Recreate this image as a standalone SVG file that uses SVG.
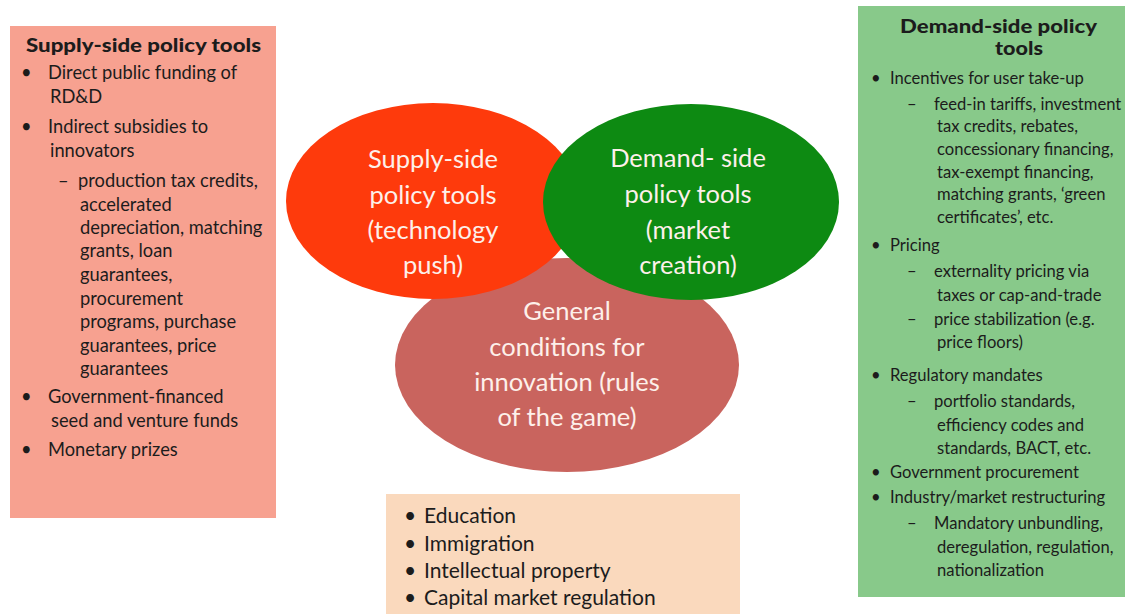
<svg xmlns="http://www.w3.org/2000/svg" width="1125" height="614" viewBox="0 0 1125 614">
<style>
.t{font-family:Lato,"Open Sans","Liberation Sans",sans-serif;fill:#1c1c1c}
.l{font-size:18.3px}
.r{font-size:16.6px}
.h{font-size:19px;font-weight:900}
.e{font-family:Lato,"Open Sans","Liberation Sans",sans-serif;font-size:25.5px;fill:#fdf0ea;text-anchor:middle}
.c{font-size:21px}
</style>
<rect width="1125" height="614" fill="#ffffff"/>
<g id="supply-box">
<rect x="10" y="26" width="266" height="492" fill="#f7a190"/>
<text class="t h" x="26" y="52" textLength="235" lengthAdjust="spacingAndGlyphs">Supply-side policy tools</text>
<text class="t l" x="21" y="79">•</text><text class="t l" x="48" y="79">Direct public funding of</text>
<text class="t l" x="50" y="103">RD&amp;D</text>
<text class="t l" x="21" y="133">•</text><text class="t l" x="48" y="133">Indirect subsidies to</text>
<text class="t l" x="50" y="157">innovators</text>
<text class="t l" x="58" y="187">–</text><text class="t l" x="78" y="187">production tax credits,</text>
<text class="t l" x="80" y="211">accelerated</text>
<text class="t l" x="80" y="234">depreciation, matching</text>
<text class="t l" x="80" y="257">grants, loan</text>
<text class="t l" x="80" y="281">guarantees,</text>
<text class="t l" x="80" y="305">procurement</text>
<text class="t l" x="80" y="328">programs, purchase</text>
<text class="t l" x="80" y="352">guarantees, price</text>
<text class="t l" x="80" y="375">guarantees</text>
<text class="t l" x="21" y="403">•</text><text class="t l" x="48" y="403">Government-financed</text>
<text class="t l" x="51" y="427">seed and venture funds</text>
<text class="t l" x="21" y="456">•</text><text class="t l" x="48" y="456">Monetary prizes</text>
</g>
<g id="demand-box">
<rect x="858" y="6" width="267" height="591" fill="#88c98a"/>
<text class="t h" x="900" y="33" textLength="197" lengthAdjust="spacingAndGlyphs">Demand-side policy</text>
<text class="t h" x="995" y="55" textLength="48" lengthAdjust="spacingAndGlyphs">tools</text>
<text class="t r" x="871" y="84">•</text><text class="t r" x="890" y="84">Incentives for user take-up</text>
<text class="t r" x="907" y="110">–</text><text class="t r" x="934" y="110">feed-in tariffs, investment</text>
<text class="t r" x="937" y="132">tax credits, rebates,</text>
<text class="t r" x="937" y="155">concessionary financing,</text>
<text class="t r" x="937" y="178">tax-exempt financing,</text>
<text class="t r" x="937" y="200">matching grants, ‘green</text>
<text class="t r" x="937" y="223">certificates’, etc.</text>
<text class="t r" x="871" y="251">•</text><text class="t r" x="890" y="251">Pricing</text>
<text class="t r" x="907" y="277">–</text><text class="t r" x="934" y="277">externality pricing via</text>
<text class="t r" x="937" y="301">taxes or cap-and-trade</text>
<text class="t r" x="907" y="325">–</text><text class="t r" x="934" y="325">price stabilization (e.g.</text>
<text class="t r" x="937" y="348">price floors)</text>
<text class="t r" x="871" y="381">•</text><text class="t r" x="890" y="381">Regulatory mandates</text>
<text class="t r" x="907" y="407">–</text><text class="t r" x="934" y="407">portfolio standards,</text>
<text class="t r" x="937" y="431">efficiency codes and</text>
<text class="t r" x="937" y="454">standards, BACT, etc.</text>
<text class="t r" x="871" y="478">•</text><text class="t r" x="890" y="478">Government procurement</text>
<text class="t r" x="871" y="503">•</text><text class="t r" x="890" y="503">Industry/market restructuring</text>
<text class="t r" x="907" y="529">–</text><text class="t r" x="934" y="529">Mandatory unbundling,</text>
<text class="t r" x="937" y="553">deregulation, regulation,</text>
<text class="t r" x="937" y="576">nationalization</text>
</g>
<g id="general-ellipse">
<ellipse cx="567" cy="365" rx="172" ry="107" fill="#c9645e"/>
<text class="e" x="567" y="320">General</text>
<text class="e" x="567" y="356">conditions for</text>
<text class="e" x="567" y="391">innovation (rules</text>
<text class="e" x="567" y="426">of the game)</text>
</g>
<g id="supply-ellipse">
<ellipse cx="433" cy="201" rx="147" ry="98" fill="#fe3a0c"/>
<text class="e" x="433" y="168">Supply-side</text>
<text class="e" x="433" y="204">policy tools</text>
<text class="e" x="433" y="239">(technology</text>
<text class="e" x="433" y="274">push)</text>
</g>
<g id="demand-ellipse">
<ellipse cx="691" cy="202" rx="148" ry="98" fill="#0d8a12"/>
<text class="e" x="688" y="167">Demand- side</text>
<text class="e" x="688" y="203">policy tools</text>
<text class="e" x="688" y="239">(market</text>
<text class="e" x="688" y="274">creation)</text>
</g>
<g id="conditions-box">
<rect x="386" y="494" width="354" height="120" fill="#fad9bd"/>
<text class="t c" x="404" y="523">•</text><text class="t c" x="424" y="523">Education</text>
<text class="t c" x="404" y="551">•</text><text class="t c" x="424" y="551">Immigration</text>
<text class="t c" x="404" y="578">•</text><text class="t c" x="424" y="578">Intellectual property</text>
<text class="t c" x="404" y="605">•</text><text class="t c" x="424" y="605">Capital market regulation</text>
</g>
</svg>
